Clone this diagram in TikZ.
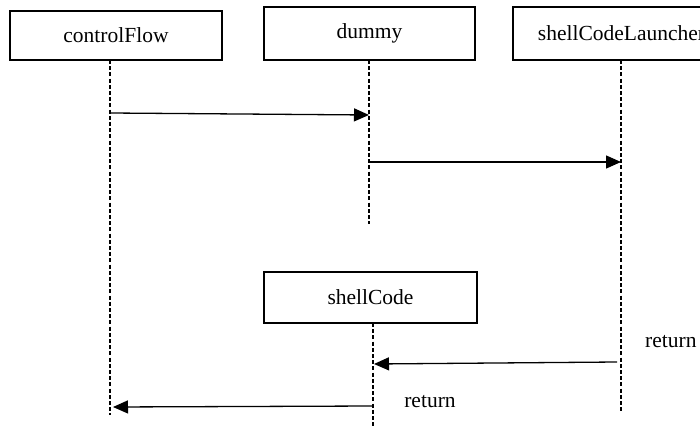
\documentclass[tikz,border=0pt]{standalone}
\usepackage{fontspec}
\setmainfont{Liberation Serif}
\usetikzlibrary{arrows.meta}
\begin{document}
\begin{tikzpicture}[x=1pt,y=-1pt,
  objbox/.style={draw,line width=1.3pt,inner sep=0pt,font=\fontsize{21.5}{25}\selectfont},
  lifeline/.style={line width=1.1pt,dash pattern=on 4pt off 2.2pt},
  msg/.style={line width=1.3pt,-{Triangle[length=15pt,width=13pt]}},
  lbl/.style={inner sep=0pt,font=\fontsize{21.5}{25}\selectfont}]
\clip (0,0) rectangle (700,427);
\fill[white] (0,0) rectangle (700,427);
% object boxes
\node[objbox,minimum width=212pt,minimum height=49pt] (cf) at (116,35.5) {controlFlow};
\node[objbox,minimum width=211pt,minimum height=53pt] (dm) at (369.5,33.5) {dummy\hspace{30pt}};
\node[objbox,minimum width=217pt,minimum height=53pt] (scl) at (621.5,33.5) {shellCodeLauncher};
\node[objbox,minimum width=213pt,minimum height=51pt] (sc) at (370.5,297.5) {shellCode};
% lifeline ends
\coordinate (cfT) at (110,60);
\coordinate (cfB) at (110,415);
\coordinate (dmT) at (369,60);
\coordinate (dmB) at (369,224);
\coordinate (sclT) at (621,60);
\coordinate (sclB) at (621,412);
\coordinate (scT) at (373,323);
\coordinate (scB) at (373,430);
\draw[lifeline] (cfT) -- (cfB);
\draw[lifeline] (dmT) -- (dmB);
\draw[lifeline] (sclT) -- (sclB);
\draw[lifeline] (scT) -- (scB);
% messages
\coordinate (m1s) at (110,113);
\coordinate (m1e) at (369,115);
\coordinate (m2s) at (369,162);
\coordinate (m2e) at (621,162);
\coordinate (m3s) at (617,362);
\coordinate (m3e) at (374,364);
\coordinate (m4s) at (373,406);
\coordinate (m4e) at (113,407);
\draw[msg] (m1s) -- (m1e);
\draw[msg] (m2s) -- (m2e);
\draw[msg] (m3s) -- (m3e);
\draw[msg] (m4s) -- (m4e);
% labels
\node[lbl,anchor=west] (r1) at (645,342) {return};
\node[lbl] (r2) at (430,402) {return};
\end{tikzpicture}
\end{document}
